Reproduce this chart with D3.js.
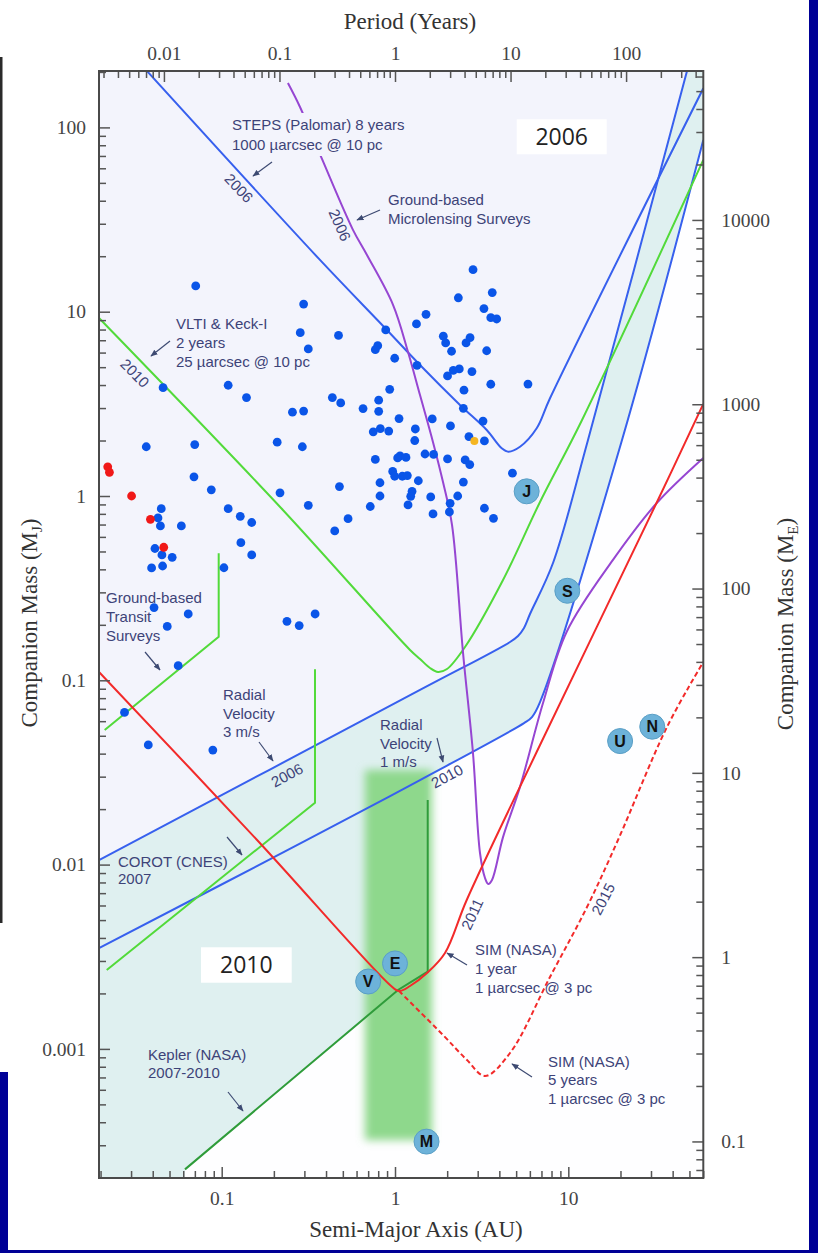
<!DOCTYPE html>
<html lang="en">
<head>
<meta charset="utf-8">
<title>Companion mass vs semi-major axis: detection limits</title>
<script src="https://d3js.org/d3.v7.min.js"></script>
<style>
  body{margin:0;background:#fff;}
  svg{display:block;}
  .tick text{font-family:"Liberation Serif","Times New Roman",serif;font-size:19.5px;fill:#444;}
  .note{font-family:"Liberation Sans",Arial,sans-serif;font-size:15px;fill:#3d4378;}
  .title{font-family:"Liberation Serif","Times New Roman",serif;font-size:23px;fill:#333;}
</style>
</head>
<body>
<div id="chart"></div>
<script>

// ---- axis extents and tick labels
var aRange = [0.01959, 60.1]        // semi-major axis (AU)
var mRange = [1.993e-4, 202.3]      // companion mass (M_J)
var mjToMe = 317.8
var axisTicks = [0.1, 1, 10]
var periodTicks = [0.01, 0.1, 1, 10, 100]
var massTicks = [0.001, 0.01, 0.1, 1, 10, 100]
var earthTicks = [0.1, 1, 10, 100, 1000, 10000]

// ---- known exoplanets [a (AU), M (M_J)]
var rvPlanets = [
  [0.0708,13.8],[0.297,11.0],[0.284,7.69],[0.316,6.28],[0.472,7.43],[0.0459,3.87],[0.109,3.99],
  [0.139,3.42],[0.256,2.85],[0.297,2.89],[0.435,3.42],[0.0367,1.85],[0.0699,1.90],[0.209,1.96],
  [0.292,1.85],[0.0692,1.27],[0.0871,1.08],[0.217,1.04],[0.0448,0.853],[0.109,0.853],[0.316,0.890],
  [0.478,1.125],[0.0429,0.760],[0.0443,0.688],[0.0585,0.688],[0.128,0.776],[0.149,0.718],[0.449,0.646],
  [0.129,0.558],[0.149,0.479],[0.0412,0.519],[0.0452,0.479],[0.0518,0.465],[0.0394,0.407],[0.0456,0.417],
  [0.103,0.408],[0.0407,0.248],[0.0641,0.229],[0.0485,0.196],[0.238,0.209],[0.280,0.198],[0.346,0.229],
  [0.0561,0.120],[0.0275,0.0669],[0.0377,0.0446],[0.0889,0.0418],
  [2.82,16.9],[3.64,12.7],[2.32,11.9],[3.26,10.4],[3.57,9.28],[3.86,9.13],[1.51,9.68],[1.33,8.58],
  [0.884,7.96],[0.795,6.54],[0.770,6.22],[0.996,5.59],[1.90,7.36],[1.96,6.77],[2.12,6.10],[2.71,7.23],
  [2.57,6.77],[3.38,6.14],[1.34,5.12],[2.35,4.89],[2.17,4.81],[2.01,4.48],[2.78,4.73],[3.57,4.04],
  [5.85,4.05],[2.50,3.75],[0.932,3.79],[0.486,3.20],[0.805,3.31],[0.654,2.98],[0.805,2.88],[2.48,2.99],
  [1.055,2.63],[1.64,2.62],[2.09,2.40],[3.22,2.55],[0.749,2.23],[0.823,2.32],[0.920,2.25],[1.31,2.31],
  [1.30,2.00],[2.67,2.10],[3.28,1.99],[0.770,1.58],[1.069,1.65],[1.036,1.61],[1.157,1.62],[1.49,1.69],
  [1.67,1.68],[2.01,1.59],[2.54,1.57],[2.70,1.48],[4.76,1.33],[0.970,1.36],[0.996,1.28],[1.102,1.28],
  [1.178,1.29],[1.363,1.21],[0.819,1.18],[2.48,1.19],[1.254,1.06],[1.232,0.996],[0.819,1.0],[1.607,0.988],
  [2.30,1.0],[0.720,0.877],[1.189,0.894],[2.08,0.913],[1.657,0.799],[2.06,0.819],[3.28,0.858],[3.70,0.757],
  [0.536,0.753]
]
var transitPlanets = [[0.0220,1.44],[0.0225,1.345],[0.0302,1.0],[0.0388,0.747],[0.0463,0.527]]
var otherPlanets = [[2.87,1.99]]

// ---- solar system
var solarNames = ["J", "S", "U", "N", "V", "E", "M"]
var solarA = [5.75, 9.87, 19.9, 30.5, 0.70, 1.0, 1.52]
var solarM = [1.06, 0.306, 0.0468, 0.056, 0.00232, 0.00291, 0.000314]

// ---- detection limit curves [a, M]
var steps2006 = [[0.0371,202],[0.369,19.1],[0.876,8.16],[1.394,5.14],[2.371,3.12],[3.382,2.28],[4.127,1.815],
  [4.506,1.74],[5.263,1.85],[6.57,2.33],[7.84,3.39],[60.1,163]]
var micro2006 = [[0.241,174],[0.283,129],[0.379,67.4],[0.572,27.8],[0.689,20.3],[0.974,10.9],[1.189,6.04],
  [1.394,3.53],[1.657,1.96],[1.892,1.19],[2.133,0.696],[2.469,0.141],[2.818,0.0403],[3.093,0.01156],
  [3.306,0.00846],[3.453,0.00785],[3.628,0.00825],[4.20,0.0141],[5.263,0.0264],[7.145,0.0753],
  [9.79,0.1835],[18.1,0.450],[32.4,0.916],[60.1,1.608]]
var vlti2010 = [[0.01959,9.24],[0.220,0.861],[1.221,0.1461],[1.394,0.1305],[1.592,0.1166],[1.770,0.1109],
  [1.995,0.1151],[2.535,0.1516],[4.20,0.350],[6.866,0.928],[12.0,2.585],[60.1,66.6]]
var rv2006 = [[0.01959,0.01059],[1.394,0.0886],[4.609,0.1614],[5.125,0.1739],[5.551,0.1922],[6.01,0.229],
  [8.16,0.433],[12.99,2.013],[48.4,202.3]]
var rv2010 = [[0.01959,0.003527],[0.3106,0.0136],[1.394,0.02877],[5.551,0.0586],[6.17,0.0632],[6.866,0.0762],
  [20.41,2.013],[60.1,85.4]]
var transitLimit = [[0.02113,0.0537],[0.0961,0.1724],[0.0961,0.4888]]
var corot = [[0.02171,0.00268],[0.3454,0.02167],[0.3454,0.1147]]
var kepler = [[0.0614,0.000222],[1.041,0.002087],[1.544,0.002624],[1.544,0.0224]]
var sim1yr = [[0.01959,0.1109],[0.160,0.0136],[0.936,0.002222],[1.055,0.00206],[1.221,0.002194],
  [1.530,0.00258],[1.943,0.003314],[2.593,0.006425],[6.866,0.04456],[32.9,0.951],[60.1,3.157]]
var sim5yr = [[1.055,0.00206],[1.892,0.001189],[2.603,0.00087],[3.306,0.000713],[4.609,0.00095],
  [7.84,0.002456],[12.82,0.005886],[19.35,0.0136],[37.1,0.0558],[60.1,0.1257]]
var hzA = [0.671, 1.635]
var hzM = [0.00032, 0.0326]

// ---- page
var W = 818, H = 1253
var margin = {top: 71, bottom: 75, left: 99, right: 114.7}
var w = W - margin.left - margin.right
var h = H - margin.top - margin.bottom

var lavender = "#f3f4fc", teal = "#dff0f0"
var blue = "#3760ee", green = "#52da3a", purple = "#9646d2", red = "#f22a2a", dkgreen = "#2f9c3a"

var svg = d3.select("#chart").append("svg")
            .attr("width", W).attr("height", H)

var defs = svg.append("defs")
defs.append("clipPath").attr("id", "plotclip")
    .append("rect").attr("width", w).attr("height", h)
var blur = defs.append("filter").attr("id", "soft")
    .attr("x", -0.4).attr("y", -0.1).attr("width", 1.8).attr("height", 1.2)
blur.append("feGaussianBlur").attr("stdDeviation", 4)
defs.append("marker").attr("id", "arrow")
    .attr("viewBox", "0 0 10 10").attr("refX", 9).attr("refY", 5)
    .attr("markerWidth", 6).attr("markerHeight", 6).attr("orient", "auto")
    .append("path").attr("d", "M0,1L10,5L0,9Z").attr("fill", "#3d4a72")

// border strips of the original slide
svg.append("rect").attr("x", 0).attr("y", 57).attr("width", 2.5).attr("height", 866).attr("fill", "#2a2a2a")
svg.append("rect").attr("x", 809).attr("y", 0).attr("width", 9).attr("height", H).attr("fill", "#000096")
svg.append("rect").attr("x", 0).attr("y", 1250).attr("width", W).attr("height", 3).attr("fill", "#000096")
svg.append("rect").attr("x", 0).attr("y", 1072).attr("width", 8).attr("height", 181).attr("fill", "#000096")

var x = d3.scaleLog().domain(aRange).range([0, w])
var y = d3.scaleLog().domain(mRange).range([h, 0])
var xP = d3.scaleLog().domain(aRange.map(function(a){ return Math.pow(a, 1.5) })).range([0, w])
var yE = d3.scaleLog().domain(mRange.map(function(m){ return m * mjToMe })).range([h, 0])

var smooth = d3.line().x(function(d){ return x(d[0]) }).y(function(d){ return y(d[1]) })
               .curve(d3.curveCatmullRom.alpha(0.5))
var straight = d3.line().x(function(d){ return x(d[0]) }).y(function(d){ return y(d[1]) })

var plot = svg.append("g").attr("transform", "translate(" + margin.left + "," + margin.top + ")")
var inner = plot.append("g").attr("clip-path", "url(#plotclip)")

// shaded regions
inner.append("rect").attr("width", w).attr("height", h).attr("fill", "#fefeff")
var kTop = kepler[kepler.length - 1][0]
var keplerRegion = [[aRange[0], mRange[0]], [kepler[0][0], mRange[0]]]
                   .concat(kepler).concat([[kTop, mRange[1]], [aRange[0], mRange[1]]])
inner.append("path").attr("d", straight(keplerRegion) + "Z").attr("fill", teal)
inner.append("path").attr("d", smooth(rv2010) + "L" + w + ",0L0,0Z").attr("fill", teal)
inner.append("path").attr("d", smooth(rv2006) + "L0,0Z").attr("fill", lavender)

// habitable zone band
inner.append("rect")
     .attr("x", x(hzA[0])).attr("width", x(hzA[1]) - x(hzA[0]))
     .attr("y", y(hzM[1])).attr("height", y(hzM[0]) - y(hzM[1]))
     .attr("fill", "#8ed88c").attr("filter", "url(#soft)")

// limit curves
var curves = [
  {d: rv2006, c: blue, s: true}, {d: rv2010, c: blue, s: true},
  {d: steps2006, c: blue, s: true}, {d: vlti2010, c: green, s: true},
  {d: transitLimit, c: green, s: false}, {d: corot, c: green, s: false},
  {d: kepler, c: dkgreen, s: false}, {d: micro2006, c: purple, s: true},
  {d: sim5yr, c: red, s: true, dash: "5,3"}, {d: sim1yr, c: red, s: true}
]
inner.selectAll(".limit")
     .data(curves)
     .enter()
     .append("path")
       .attr("class", "limit")
       .attr("d", function(d){ return d.s ? smooth(d.d) : straight(d.d) })
       .attr("fill", "none")
       .attr("stroke", function(d){ return d.c })
       .attr("stroke-width", 2)
       .attr("stroke-dasharray", function(d){ return d.dash || null })

// annotations (page coordinates)
var notes = svg.append("g")
notes.append("rect").attr("x", 229).attr("y", 113).attr("width", 188).attr("height", 43).attr("fill", lavender)

var labels = [
  {x: 232, y: 129.5, dy: 20.5, t: ["STEPS (Palomar) 8 years", "1000 \u00b5arcsec @ 10 pc"]},
  {x: 388, y: 205, dy: 19, t: ["Ground-based", "Microlensing Surveys"]},
  {x: 176, y: 328.5, dy: 19.3, t: ["VLTI & Keck-I", "2 years", "25 \u00b5arcsec @ 10 pc"]},
  {x: 106, y: 603, dy: 19, t: ["Ground-based", "Transit", "Surveys"]},
  {x: 223, y: 700, dy: 18.5, t: ["Radial", "Velocity", "3 m/s"]},
  {x: 380, y: 730, dy: 18.5, t: ["Radial", "Velocity", "1 m/s"]},
  {x: 118, y: 866.5, dy: 17.5, t: ["COROT (CNES)", "2007"]},
  {x: 148, y: 1060, dy: 17.5, t: ["Kepler (NASA)", "2007-2010"]},
  {x: 475, y: 955, dy: 19, t: ["SIM (NASA)", "1 year", "1 \u00b5arcsec @ 3 pc"]},
  {x: 548, y: 1066.5, dy: 18.7, t: ["SIM (NASA)", "5 years", "1 \u00b5arcsec @ 3 pc"]}
]
labels.forEach(function(l){
  var t = notes.append("text").attr("class", "note").attr("x", l.x).attr("y", l.y)
  l.t.forEach(function(s, i){
    t.append("tspan").attr("x", l.x).attr("dy", i ? l.dy : 0).text(s)
  })
})

var years = [
  {x: 239, y: 188, r: 47, t: "2006"}, {x: 340, y: 225, r: 66, t: "2006"},
  {x: 135, y: 373, r: 45, t: "2010"}, {x: 287, y: 775, r: -28, t: "2006"},
  {x: 447, y: 776, r: -28, t: "2010"}, {x: 472, y: 914, r: -65, t: "2011"},
  {x: 603, y: 899, r: -63, t: "2015"}
]
notes.selectAll(".yr")
     .data(years)
     .enter()
     .append("text")
       .attr("class", "note")
       .attr("text-anchor", "middle")
       .attr("dominant-baseline", "central")
       .attr("transform", function(d){ return "translate(" + d.x + "," + d.y + ") rotate(" + d.r + ")" })
       .text(function(d){ return d.t })

var arrows = [[272,162,253,176],[380,210,357,220],[170,341,151,356],[145,652,160,670],[259,742,273,761],
              [437,738,443,762],[227,837,242,855],[228,1092,243,1111],[467,965,447,953],[532,1077,512,1064]]
notes.selectAll(".arr")
     .data(arrows)
     .enter()
     .append("line")
       .attr("x1", function(d){ return d[0] }).attr("y1", function(d){ return d[1] })
       .attr("x2", function(d){ return d[2] }).attr("y2", function(d){ return d[3] })
       .attr("stroke", "#3d4a72").attr("stroke-width", 1.2)
       .attr("marker-end", "url(#arrow)")

var boxes = [{x: 516.7, y: 119.3, w: 90, h: 35, t: "2006"}, {x: 201, y: 947.3, w: 90.7, h: 35.4, t: "2010"}]
boxes.forEach(function(b){
  notes.append("rect").attr("x", b.x).attr("y", b.y).attr("width", b.w).attr("height", b.h).attr("fill", "#fff")
  notes.append("text").attr("x", b.x + b.w / 2).attr("y", b.y + b.h / 2 + 8)
       .attr("text-anchor", "middle")
       .style("font-family", "'Open Sans', 'Liberation Sans', sans-serif")
       .style("font-size", "23px").style("fill", "#222")
       .text(b.t)
})

// planets
var dots = plot.append("g")
dots.selectAll(".rv")
    .data(rvPlanets).enter().append("circle")
      .attr("cx", function(d){ return x(d[0]) }).attr("cy", function(d){ return y(d[1]) })
      .attr("r", 4.4).attr("fill", "#0a55e8")
dots.selectAll(".tr")
    .data(transitPlanets).enter().append("circle")
      .attr("cx", function(d){ return x(d[0]) }).attr("cy", function(d){ return y(d[1]) })
      .attr("r", 4.4).attr("fill", "#f01818")
dots.selectAll(".ot")
    .data(otherPlanets).enter().append("circle")
      .attr("cx", function(d){ return x(d[0]) }).attr("cy", function(d){ return y(d[1]) })
      .attr("r", 4).attr("fill", "#f5b520")

var solar = plot.append("g").selectAll("g")
    .data(solarNames).enter().append("g")
      .attr("transform", function(d, i){ return "translate(" + x(solarA[i]) + "," + y(solarM[i]) + ")" })
solar.append("circle").attr("r", 12.5).attr("fill", "#6db2d9").attr("stroke", "#5a9fc6").attr("stroke-width", 1)
solar.append("text")
     .attr("text-anchor", "middle").attr("dy", "0.36em")
     .style("font-family", "'Liberation Sans', Arial, sans-serif")
     .style("font-size", "16px").style("font-weight", "bold").style("fill", "#111")
     .text(function(d){ return d })

// axes
function isMajor(list){ return function(v){ return list.some(function(m){ return Math.abs(m / v - 1) < 1e-6 }) } }
function minors(scale, list){ return scale.ticks().filter(function(v){ return !isMajor(list)(v) }) }
var fmt = d3.format("~g")

function styleAxis(g){
  g.select(".domain").remove()
  g.selectAll(".tick line").attr("stroke", "#555").attr("stroke-width", 1.5)
}

plot.append("g").attr("transform", "translate(0," + h + ")")
    .call(d3.axisBottom(x).tickValues(minors(x, axisTicks)).tickSize(-7).tickFormat("")).call(styleAxis)
plot.append("g").attr("transform", "translate(0," + h + ")")
    .call(d3.axisBottom(x).tickValues(axisTicks).tickSize(-11).tickPadding(13).tickFormat(fmt)).call(styleAxis)

plot.append("g")
    .call(d3.axisTop(xP).tickValues(minors(xP, periodTicks)).tickSize(-7).tickFormat("")).call(styleAxis)
plot.append("g")
    .call(d3.axisTop(xP).tickValues(periodTicks).tickSize(-11).tickPadding(11).tickFormat(fmt)).call(styleAxis)

plot.append("g")
    .call(d3.axisLeft(y).tickValues(minors(y, massTicks)).tickSize(-7).tickFormat("")).call(styleAxis)
plot.append("g")
    .call(d3.axisLeft(y).tickValues(massTicks).tickSize(-11).tickPadding(13).tickFormat(fmt)).call(styleAxis)

plot.append("g").attr("transform", "translate(" + w + ",0)")
    .call(d3.axisRight(yE).tickValues(minors(yE, earthTicks)).tickSize(-7).tickFormat("")).call(styleAxis)
plot.append("g").attr("transform", "translate(" + w + ",0)")
    .call(d3.axisRight(yE).tickValues(earthTicks).tickSize(-11).tickPadding(18).tickFormat(fmt)).call(styleAxis)

plot.append("rect").attr("width", w).attr("height", h)
    .attr("fill", "none").attr("stroke", "#4a4a4a").attr("stroke-width", 2)

// titles
svg.append("text").attr("class", "title").attr("x", 410).attr("y", 29).attr("text-anchor", "middle")
   .text("Period (Years)")
svg.append("text").attr("class", "title").attr("x", 416).attr("y", 1237).attr("text-anchor", "middle")
   .text("Semi-Major Axis (AU)")

function massTitle(xpos, ypos, sub){
  var t = svg.append("text").attr("class", "title").attr("text-anchor", "middle")
             .attr("transform", "translate(" + xpos + "," + ypos + ") rotate(-90)")
  t.append("tspan").text("Companion Mass (M")
  t.append("tspan").attr("dy", 5).style("font-size", "15px").text(sub)
  t.append("tspan").attr("dy", -5).text(")")
}
massTitle(37, 623, "J")
massTitle(793, 624, "E")

</script>
</body>
</html>
